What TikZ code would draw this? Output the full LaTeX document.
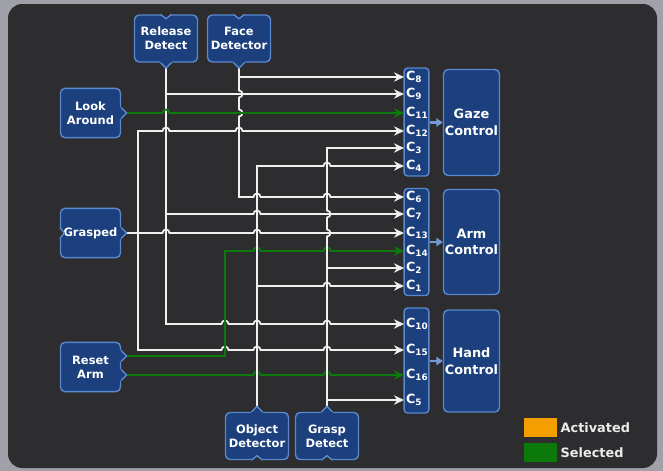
\documentclass[tikz,border=0pt]{standalone}
\usepackage{fontspec}
\setsansfont{DejaVu Sans}
\usetikzlibrary{arrows.meta,calc,positioning}
\definecolor{panel}{HTML}{2D2D2F}
\definecolor{frame}{HTML}{A0A0A8}
\definecolor{unitfill}{HTML}{1C3F7E}
\definecolor{unitline}{HTML}{5A88CE}
\definecolor{selgreen}{HTML}{0B7A0B}
\definecolor{actorange}{HTML}{F59E00}
\tikzset{
  ctl-unit/.style={draw=unitline, fill=unitfill, rounded corners=4pt, line width=1.2pt,
    text=white, align=center, inner sep=1pt,
    font=\sffamily\bfseries\fontsize{9.8}{11.8}\selectfont},
  ctl-side/.style={ctl-unit, minimum width=1.8cm, minimum height=1.48cm},
  ctl-tb/.style={ctl-unit, minimum width=1.89cm, minimum height=1.41cm},
  ctl-cbox/.style={draw=unitline, fill=unitfill, rounded corners=3pt, line width=1.2pt,
    minimum width=0.74cm},
  ctl-box/.style={ctl-unit, minimum width=1.68cm,
    font=\sffamily\bfseries\fontsize{11}{14}\selectfont},
  ctl-cin/.style={text=white, font=\sffamily\bfseries\fontsize{10.8}{11}\selectfont,
    text width=0.62cm, inner xsep=0.06cm, inner ysep=0pt, align=left},
  ctl-wire/.style={draw=white!94!black, line width=1.5pt, line cap=round,
    -{Stealth[length=8.5pt,width=8pt]}},
  ctl-sel/.style={ctl-wire, draw=selgreen},
  ctl-link/.style={draw=unitline!85!white, line width=1.8pt, -{Triangle[length=5.5pt,width=7pt]}},
  ctl-legbox/.style={minimum width=0.99cm, minimum height=0.57cm, inner sep=0pt},
  ctl-legtxt/.style={text=white!92!black, font=\sffamily\bfseries\fontsize{11}{12}\selectfont, inner sep=1pt},
  ctl-out/.pic={
    \fill[unitfill] (-2,-6.5) -- (0,-5.5) -- (5.5,0) -- (0,5.5) -- (-2,6.5) -- cycle;
    \draw[unitline, line width=1.2pt, line join=round] (0,-5.5) -- (5.5,0) -- (0,5.5);},
  ctl-in/.pic={
    \fill[panel] (2,-6.5) -- (0,-5.5) -- (-4.5,0) -- (0,5.5) -- (2,6.5) -- cycle;
    \draw[unitline, line width=1.2pt, line join=round] (0,-5.5) -- (-4.5,0) -- (0,5.5);}
}
% line jumps: over a vertical line, and along a vertical line
\newcommand\hopx[2]{-- ($(#1|-#2)+(-3.5,0)$) arc[start angle=180,end angle=360,radius=3.5]}
\newcommand\hopdown[2]{-- ($(#1|-#2)+(0,-3.5)$) arc[start angle=-90,end angle=90,radius=3.5]}
\newcommand\hopup[2]{-- ($(#1|-#2)+(0,3.5)$) arc[start angle=90,end angle=-90,radius=3.5]}

\begin{document}
\begin{tikzpicture}[x=0.03cm, y=-0.03cm]
  \useasboundingbox (0,0) rectangle (663,471);
  % Panel
  \fill[frame] (0,0) rectangle (663,471);
  \fill[panel, rounded corners=12pt] (8,4) rectangle (657,468);

  % Sensing units
  \node[ctl-tb] (release) at (166,38.5) {Release\\Detect};
  \node[ctl-tb] (face) at (239,38.5) {Face\\Detector};
  \node[ctl-side] (look) at (90.5,113) {Look\\Around};
  \node[ctl-side] (grasped) at (90.5,233) {Grasped};
  \node[ctl-side] (reset) at (90.5,367) {Reset\\Arm};
  \node[ctl-tb] (objd) at (257,436) {Object\\Detector};
  \node[ctl-tb] (graspd) at (327,436) {Grasp\\Detect};
  \coordinate (reset-up) at ($(reset.east)+(0,-11)$);
  \coordinate (reset-dn) at ($(reset.east)+(0,8)$);

  % Condition columns
  \node[ctl-cbox, minimum height=3.24cm] (cgaze) at (416.5,122) {};
  \node[ctl-cbox, minimum height=3.21cm] (carm) at (416.5,242) {};
  \node[ctl-cbox, minimum height=3.15cm] (chand) at (416.5,360.5) {};
  \foreach \n/\y in {8/77,9/94,11/113,12/131,3/148,4/166,6/197,7/214,13/233,14/251,2/268,1/286,10/324,15/350,16/375,5/400}
    \node[ctl-cin] (c\n) at (416.5,\y) {C\textsubscript{\n}};

  % Controllers
  \node[ctl-box, minimum height=3.18cm] (gaze) at (471.5,122.5) {Gaze\\Control};
  \node[ctl-box, minimum height=3.15cm] (arm) at (471.5,242) {Arm\\Control};
  \node[ctl-box, minimum height=3.06cm] (hand) at (471.5,361) {Hand\\Control};
  \draw[ctl-link] (cgaze.east |- gaze.west) -- (gaze.west);
  \draw[ctl-link] (carm.east |- arm.west) -- (arm.west);
  \draw[ctl-link] (chand.east |- hand.west) -- (hand.west);

  % Bus corners
  \coordinate (gbus) at (138,131);
  \coordinate (rbus) at (225,251);

  % Release Detect
  \draw[ctl-wire] (release.south) -- (release.south |- c10.west) \hopx{rbus}{c10.west}
    \hopx{objd.north}{c10.west} \hopx{graspd.north}{c10.west} -- (c10.west);
  \draw[ctl-wire] (release.south |- c9.west) -- (c9.west);
  \draw[ctl-wire] (release.south |- c7.west) \hopx{objd.north}{c7.west} -- (c7.west);

  % Face Detector
  \draw[ctl-wire] (face.south) \hopdown{face.south}{c9.west} \hopdown{face.south}{c11.west}
    -- (face.south |- c6.west) \hopx{objd.north}{c6.west} \hopx{graspd.north}{c6.west} -- (c6.west);
  \draw[ctl-wire] (face.south |- c8.west) -- (c8.west);

  % Look Around
  \draw[ctl-sel] (look.east) \hopx{release.south}{c11.west} -- (c11.west);

  % Grasped
  \draw[ctl-wire] (grasped.east) \hopx{release.south}{c13.west} \hopx{objd.north}{c13.west} -- (c13.west);
  \draw[ctl-wire] (grasped.east) -| (gbus) \hopx{release.south}{c12.west}
    \hopx{face.south}{c12.west} -- (c12.west);
  \draw[ctl-wire] (grasped.east) -| (gbus |- c15.west) \hopx{rbus}{c15.west}
    \hopx{objd.north}{c15.west} \hopx{graspd.north}{c15.west} -- (c15.west);

  % Reset Arm
  \draw[ctl-sel] (reset-up) -| (rbus) \hopx{objd.north}{c14.west} \hopx{graspd.north}{c14.west} -- (c14.west);
  \draw[ctl-sel] (reset-dn) \hopx{objd.north}{c16.west} \hopx{graspd.north}{c16.west} -- (c16.west);

  % Object Detector
  \draw[ctl-wire] (objd.north) -- (objd.north |- c4.west) \hopx{graspd.north}{c4.west} -- (c4.west);
  \draw[ctl-wire] (objd.north |- c1.west) \hopx{graspd.north}{c1.west} -- (c1.west);

  % Grasp Detect
  \draw[ctl-wire] (graspd.north) \hopup{graspd.north}{c13.west} \hopup{graspd.north}{c7.west}
    -- (graspd.north |- c3.west) -- (c3.west);
  \draw[ctl-wire] (graspd.north |- c2.west) -- (c2.west);
  \draw[ctl-wire] (graspd.north |- c5.west) -- (c5.west);

  % Ports
  \pic[rotate=-90] at (release.south) {ctl-out};
  \pic[rotate=-90] at (face.south) {ctl-out};
  \pic at (look.east) {ctl-out};
  \pic at (grasped.east) {ctl-out};
  \pic at (reset-up) {ctl-out};
  \pic at (reset-dn) {ctl-out};
  \pic[rotate=90] at (objd.north) {ctl-out};
  \pic[rotate=90] at (graspd.north) {ctl-out};
  \pic[rotate=90] at (release.north) {ctl-in};
  \pic[rotate=90] at (face.north) {ctl-in};
  \pic[rotate=180] at (grasped.west) {ctl-in};
  \pic[rotate=-90] at (objd.south) {ctl-in};
  \pic[rotate=-90] at (graspd.south) {ctl-in};

  % Legend
  \node[ctl-legbox, fill=actorange] (act) at (540.5,427.5) {};
  \node[ctl-legtxt, right=0.06cm of act] (act-txt) {Activated};
  \node[ctl-legbox, fill=selgreen] (sel) at (540.5,452.5) {};
  \node[ctl-legtxt, right=0.06cm of sel] (sel-txt) {Selected};
\end{tikzpicture}
\end{document}
